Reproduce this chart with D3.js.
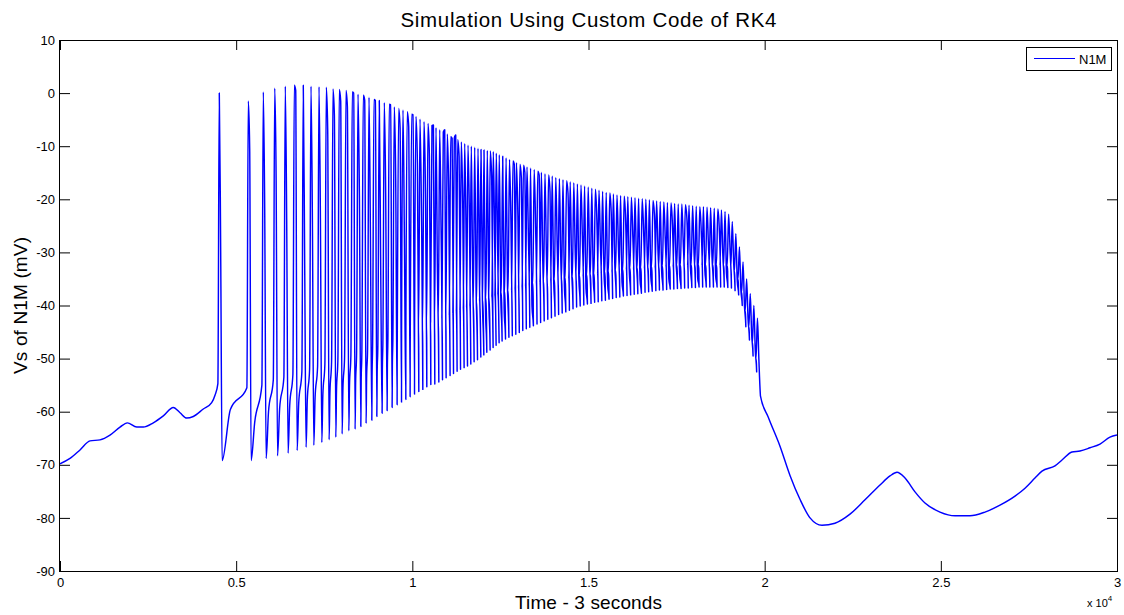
<!DOCTYPE html>
<html>
<head>
<meta charset="utf-8">
<script src="https://cdn.jsdelivr.net/npm/d3@7"></script>
<style>
  html, body { margin: 0; padding: 0; background: #fff; }
  svg { display: block; }
  text { font-family: "Liberation Sans", Arial, Helvetica, sans-serif; fill: #000; }
</style>
</head>
<body>
<svg id="chart" width="1124" height="615"></svg>
<script>
// ---------------- DATA ----------------
const titleText = "Simulation Using Custom Code of RK4";
const xLabelText = "Time - 3 seconds";
const yLabelText = "Vs of N1M (mV)";
const legendLabel = "N1M";

const xTicks = [0, 5000, 10000, 15000, 20000, 25000, 30000];
const xTickLabels = ["0", "0.5", "1", "1.5", "2", "2.5", "3"];
const yTicks = [-90, -80, -70, -60, -50, -40, -30, -20, -10, 0, 10];
const yTickLabels = ["-90", "-80", "-70", "-60", "-50", "-40", "-30", "-20", "-10", "0", "10"];

// slow membrane potential before the burst (time, mV)
const preT = [0, 284, 568, 851, 1135, 1419, 1703, 1910, 2177, 2364, 2648, 2932, 3216, 3406, 3596, 3783, 4067, 4305, 4399];
const preV = [-69.8, -68.8, -67.2, -65.5, -65.3, -64.4, -62.9, -62.1, -62.9, -62.9, -62.1, -60.8, -59.2, -60.2, -61.2, -60.9, -59.5, -58.3, -56.9];

// spike train
const spikeT = [4521, 5344, 5770, 6094, 6394, 6650, 6905, 7124, 7351, 7558,
  7748, 7927, 8117, 8296, 8458, 8608, 8770, 8912, 9062, 9204,
  9346, 9488, 9613, 9735, 9857, 9982, 10104, 10218, 10331, 10445,
  10558, 10672, 10777, 10879, 10992, 11089, 11191, 11288, 11390, 11486,
  11580, 11674, 11770, 11864, 11949, 12034, 12128, 12213, 12298, 12383,
  12468, 12565, 12661, 12758, 12857, 12956, 13055, 13155, 13254, 13356,
  13459, 13561, 13663, 13765, 13868, 13970, 14072, 14174, 14276, 14378,
  14481, 14583, 14685, 14787, 14889, 14992, 15094, 15196, 15298, 15400,
  15503, 15605, 15707, 15809, 15911, 16014, 16116, 16218, 16320, 16422,
  16525, 16627, 16729, 16831, 16933, 17036, 17138, 17240, 17342, 17444,
  17547, 17649, 17751, 17853, 17955, 18058, 18160, 18262, 18364, 18466,
  18569, 18671, 18773, 18875, 18977, 19080, 19182, 19284, 19386, 19488,
  19591, 19693, 19795];
// level just before each upstroke
const spikePre = [-54.7, -55.5, -55.0, -54.0, -53.5, -53.0, -52.5, -52.0, -51.5, -51.0,
  -50.6, -50.2, -49.8, -49.4, -49.0, -48.6, -48.2, -47.8, -47.4, -47.0,
  -46.6, -46.2, -45.8, -45.4, -45.0, -44.7, -44.4, -44.1, -43.8, -43.5,
  -43.2, -42.9, -42.6, -42.3, -42.0, -41.7, -41.4, -41.1, -40.8, -40.5,
  -40.2, -39.9, -39.6, -39.3, -39.0, -38.8, -38.6, -38.4, -38.2, -38.0,
  -37.8, -37.6, -37.4, -37.2, -37.0, -36.8, -36.6, -36.4, -36.2, -36.0,
  -35.8, -35.6, -35.5, -35.4, -35.3, -35.2, -35.1, -35.0, -34.9, -34.8,
  -34.7, -34.6, -34.5, -34.4, -34.3, -34.2, -34.1, -34.0, -33.9, -33.8,
  -33.7, -33.6, -33.5, -33.4, -33.3, -33.2, -33.1, -33.0, -33.0, -32.9,
  -32.9, -32.8, -32.8, -32.7, -32.7, -32.6, -32.6, -32.5, -32.5, -32.5,
  -32.4, -32.4, -32.4, -32.3, -32.3, -32.3, -32.3, -32.3, -32.3, -32.3,
  -32.3, -32.3, -32.3, -32.4, -32.5, -32.8, -33.5, -35.0, -37.5, -41.0,
  -44.0, -47.0, -50.0];
// spike peaks
const spikePeak = [0, -1.5, 0.2, 0.9, 1.3, 1.5, 1.5, 1.3, 1.2, 1.1,
  0.8, 0.7, 0.5, 0.2, -0.2, -0.4, -0.8, -1.2, -1.4, -1.8,
  -2.1, -2.6, -2.9, -3.2, -3.5, -4.0, -4.4, -4.9, -5.4, -5.7,
  -6.1, -6.5, -6.9, -7.3, -7.7, -8.2, -8.5, -8.8, -9.2, -9.5,
  -9.8, -10.0, -10.2, -10.4, -10.6, -10.7, -10.8, -10.9, -11.0, -11.3,
  -11.6, -11.9, -12.2, -12.5, -12.8, -13.1, -13.4, -13.6, -13.9, -14.1,
  -14.4, -14.7, -14.9, -15.2, -15.4, -15.6, -15.9, -16.1, -16.3, -16.5,
  -16.7, -16.9, -17.1, -17.3, -17.5, -17.7, -17.9, -18.1, -18.3, -18.5,
  -18.7, -18.8, -19.0, -19.2, -19.3, -19.4, -19.5, -19.6, -19.7, -19.8,
  -19.9, -20.0, -20.1, -20.2, -20.3, -20.4, -20.5, -20.6, -20.7, -20.8,
  -20.9, -20.9, -21.0, -21.1, -21.2, -21.3, -21.4, -21.4, -21.5, -21.6,
  -21.7, -21.8, -22.0, -22.3, -22.8, -24.2, -26.5, -29.0, -31.8, -35.0,
  -37.8, -40.0, -42.4];
// sampled point on each downstroke
const spikeDown = [-30.2, -10.5, -21.7, -16.0, -23.8, 0.5, -32.4, -24.2, -23.6, -6.8,
  -4.3, -1.5, -2.6, 0.0, -19.4, -1.3, -26.2, -1.4, -32.8, -19.0,
  -2.2, -16.2, -6.6, -27.5, -6.3, -4.1, -13.2, -21.7, -17.9, -12.0,
  -6.0, -33.6, -26.4, -6.9, -18.6, -8.5, -7.9, -12.0, -20.8, -27.0,
  -23.3, -35.5, -37.1, -35.2, -39.0, -40.2, -38.3, -16.4, -28.3, -30.1,
  -37.6, -40.5, -36.5, -24.0, -13.5, -23.3, -16.0, -15.0, -27.0, -40.2,
  -25.2, -15.5, -32.0, -30.5, -18.6, -34.8, -29.0, -31.5, -36.4, -18.8,
  -33.0, -30.0, -34.5, -27.5, -36.9, -32.0, -34.8, -23.6, -28.5, -33.8,
  -36.0, -22.5, -32.4, -29.0, -35.6, -24.0, -33.2, -27.0, -31.8, -35.2,
  -26.2, -30.5, -34.6, -22.8, -29.8, -33.5, -27.4, -35.0, -24.8, -31.6,
  -34.2, -28.2, -23.4, -32.8, -30.0, -34.8, -26.0, -33.3, -28.6, -31.0,
  -34.5, -25.4, -30.6, -33.9, -29.5, -32.0, -35.4, -37.0, -40.0, -42.5,
  -45.5, -48.4, -50.0];
// after-hyperpolarisation trough of each spike
const spikeTrough = [-69.2, -69.2, -68.8, -68.3, -67.8, -67.3, -66.7, -66.3, -65.8, -65.3,
  -64.8, -64.2, -63.6, -63.3, -62.8, -62.2, -61.6, -60.9, -60.3, -59.8,
  -59.2, -58.7, -58.2, -57.7, -57.2, -56.7, -56.2, -55.8, -55.3, -54.9,
  -54.8, -54.4, -54.0, -53.6, -53.2, -52.8, -52.4, -52.0, -51.7, -51.4,
  -51.0, -50.6, -50.2, -49.7, -49.3, -48.8, -48.4, -47.9, -47.5, -47.0,
  -46.7, -46.3, -46.0, -45.7, -45.4, -45.1, -44.7, -44.4, -44.1, -43.8,
  -43.5, -43.2, -42.9, -42.6, -42.3, -42.0, -41.7, -41.4, -41.2, -40.9,
  -40.6, -40.3, -40.1, -39.9, -39.7, -39.6, -39.4, -39.3, -39.1, -39.0,
  -38.8, -38.7, -38.5, -38.4, -38.2, -38.1, -38.0, -37.9, -37.8, -37.7,
  -37.5, -37.4, -37.3, -37.2, -37.1, -37.1, -37.0, -36.9, -36.9, -36.8,
  -36.8, -36.7, -36.7, -36.6, -36.6, -36.5, -36.5, -36.5, -36.5, -36.5,
  -36.5, -36.5, -36.5, -36.6, -36.7, -37.2, -38.0, -40.0, -44.0, -46.5,
  -49.5, -52.5, -56.5];
// recovery level a third of the way to the next spike
const spikeMid = [-59.6, -62.0, -60.0, -59.4, -58.9, -58.4, -57.9, -57.4, -56.9, -56.5,
  -56.0, -55.6, -55.1, -54.7, -54.3, -53.8, -53.3, -52.8, -52.3, -51.9,
  -51.4, -51.0, -50.5, -50.1, -49.7, -49.3, -48.9, -48.6, -48.2, -47.9,
  -47.7, -47.3, -47.0, -46.6, -46.3, -46.0, -45.6, -45.3, -45.0, -44.7,
  -44.3, -44.0, -43.6, -43.3, -43.0, -42.7, -42.4, -42.1, -41.8, -41.5,
  -41.2, -40.9, -40.6, -40.4, -40.1, -39.8, -39.5, -39.3, -39.0, -38.8,
  -38.5, -38.3, -38.1, -37.9, -37.7, -37.5, -37.3, -37.1, -37.0, -36.8,
  -36.6, -36.4, -36.3, -36.1, -36.0, -35.9, -35.7, -35.6, -35.5, -35.4,
  -35.3, -35.2, -35.0, -34.9, -34.8, -34.7, -34.6, -34.5, -34.4, -34.3,
  -34.2, -34.2, -34.1, -34.0, -33.9, -33.9, -33.8, -33.7, -33.7, -33.6,
  -33.6, -33.5, -33.5, -33.4, -33.4, -33.4, -33.4, -33.4, -33.4, -33.4,
  -33.4, -33.4, -33.4, -33.5, -34.0, -35.0, -36.2, -38.5, -42.2, -45.0,
  -48.0, -51.0, -58.0];

// slow membrane potential after the burst (time, mV)
const postT = [19880, 20100, 20435, 20719, 21002, 21287, 21627, 21996, 22422, 22848, 23273, 23557, 23756, 23983, 24267, 24550, 24976, 25402, 25828, 26253, 26679, 27105, 27389, 27672, 27871, 28240, 28439, 28722, 28950, 29233, 29517, 29801, 30000];
const postV = [-57.0, -61.0, -66.5, -72.0, -76.5, -80.0, -81.4, -81.0, -79.3, -76.6, -73.8, -72.1, -71.4, -72.5, -75.1, -77.2, -78.9, -79.6, -79.6, -78.9, -77.6, -75.9, -74.4, -72.5, -71.2, -70.2, -69.1, -67.6, -67.4, -66.8, -66.1, -64.8, -64.4];

// ---------------- DRAWING ----------------
const W = 1124, H = 615;
const plot = { left: 60, right: 1117, top: 40, bottom: 571 };
const svg = d3.select("#chart");
svg.append("rect").attr("width", W).attr("height", H).attr("fill", "#fff");

const x = d3.scaleLinear().domain([0, 30000]).range([plot.left, plot.right]);
const y = d3.scaleLinear().domain([-90, 10]).range([plot.bottom, plot.top]);

// assemble the trace from the arrays
const trace = [];
preT.forEach((t, i) => trace.push([t, preV[i]]));
const dt = 40;
spikeT.forEach((t, i) => {
  trace.push([t - dt, spikePre[i]]);
  trace.push([t, spikePeak[i]]);
  trace.push([t + dt, spikeDown[i]]);
  trace.push([t + 2 * dt, spikeTrough[i]]);
  if (i < spikeT.length - 1) {
    const a = t + 2 * dt, b = spikeT[i + 1] - dt;
    trace.push([a + (b - a) / 3, spikeMid[i]]);
  }
});
postT.forEach((t, i) => trace.push([t, postV[i]]));

svg.append("clipPath").attr("id", "clip").append("rect")
  .attr("x", plot.left).attr("y", plot.top)
  .attr("width", plot.right - plot.left).attr("height", plot.bottom - plot.top);

const line = d3.line().curve(d3.curveMonotoneX).x(d => x(d[0])).y(d => y(d[1]));
svg.append("path").datum(trace)
  .attr("clip-path", "url(#clip)")
  .attr("fill", "none").attr("stroke", "#0000ff")
  .attr("stroke-width", 1.45).attr("stroke-linejoin", "round")
  .attr("d", line);

// axes (MATLAB style: ticks inside, box on)
const tickLen = 10;
const axB = svg.append("g").attr("transform", `translate(0,${plot.bottom})`)
  .call(d3.axisBottom(x).tickValues(xTicks).tickFormat((d, i) => xTickLabels[i]).tickSizeInner(-tickLen).tickSizeOuter(0).tickPadding(7));
const axT = svg.append("g").attr("transform", `translate(0,${plot.top})`)
  .call(d3.axisTop(x).tickValues(xTicks).tickFormat("").tickSizeInner(-tickLen).tickSizeOuter(0));
const axL = svg.append("g").attr("transform", `translate(${plot.left},0)`)
  .call(d3.axisLeft(y).tickValues(yTicks).tickFormat((d, i) => yTickLabels[i]).tickSizeInner(-tickLen).tickSizeOuter(0).tickPadding(5));
const axR = svg.append("g").attr("transform", `translate(${plot.right},0)`)
  .call(d3.axisRight(y).tickValues(yTicks).tickFormat("").tickSizeInner(-tickLen).tickSizeOuter(0));
[axB, axT, axL, axR].forEach(g => {
  g.select(".domain").remove();
  g.selectAll("line").attr("stroke", "#000");
  g.selectAll("text").attr("font-size", 13).attr("font-family", "'Liberation Sans', Arial, sans-serif").attr("fill", "#000");
});
// box
svg.append("rect")
  .attr("x", plot.left - 0.5).attr("y", plot.top + 0.5)
  .attr("width", plot.right - plot.left + 1).attr("height", plot.bottom - plot.top)
  .attr("fill", "none").attr("stroke", "#000").attr("stroke-width", 1);

// exponent label
const ex = svg.append("text").attr("x", 1087).attr("y", 607).attr("font-size", 11);
ex.append("tspan").text("x 10");
ex.append("tspan").attr("dy", -6).attr("font-size", 8).text("4");

// title and axis labels
svg.append("text").attr("x", (plot.left + plot.right) / 2).attr("y", 27)
  .attr("text-anchor", "middle").attr("font-size", 20.5)
  .attr("textLength", 376).attr("lengthAdjust", "spacing").text(titleText);
svg.append("text").attr("x", (plot.left + plot.right) / 2).attr("y", 609)
  .attr("text-anchor", "middle").attr("font-size", 19)
  .attr("textLength", 147).attr("lengthAdjust", "spacing").text(xLabelText);
svg.append("text").attr("transform", `translate(27,${(plot.top + plot.bottom) / 2}) rotate(-90)`)
  .attr("text-anchor", "middle").attr("font-size", 19)
  .attr("textLength", 137).attr("lengthAdjust", "spacing").text(yLabelText);

// legend
const lg = svg.append("g");
lg.append("rect").attr("x", 1026.5).attr("y", 47.5).attr("width", 85).attr("height", 23)
  .attr("fill", "#fff").attr("stroke", "#000");
lg.append("line").attr("x1", 1034).attr("x2", 1075).attr("y1", 58.5).attr("y2", 58.5)
  .attr("stroke", "#0000ff").attr("stroke-width", 1);
lg.append("text").attr("x", 1079).attr("y", 64).attr("font-size", 13).text(legendLabel);
</script>
</body>
</html>
